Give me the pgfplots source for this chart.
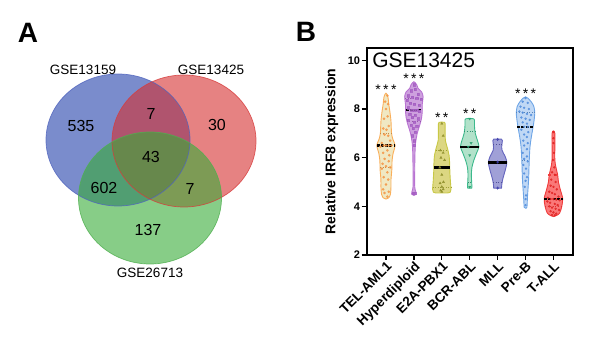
\documentclass[border=0pt]{standalone}
\usepackage{pgfplots}
\pgfplotsset{compat=1.18}
\usepackage{fontspec}
\setmainfont{Liberation Sans}

\definecolor{vblue}{RGB}{33,63,170}
\definecolor{vred}{RGB}{213,47,47}
\definecolor{vgreen}{RGB}{55,172,55}
\definecolor{bblue}{RGB}{80,100,190}
\definecolor{bred}{RGB}{215,60,60}
\definecolor{bgreen}{RGB}{80,175,80}

\definecolor{d1}{RGB}{250,175,90}\definecolor{f1}{RGB}{240,232,195}\definecolor{p1}{RGB}{245,150,70}
\definecolor{d2}{RGB}{185,115,210}\definecolor{f2}{RGB}{205,160,222}\definecolor{p2}{RGB}{165,95,195}
\definecolor{d3}{RGB}{200,200,70}\definecolor{f3}{RGB}{220,215,130}\definecolor{p3}{RGB}{140,140,40}
\definecolor{d4}{RGB}{60,185,140}\definecolor{f4}{RGB}{178,226,202}\definecolor{p4}{RGB}{40,160,110}
\definecolor{d5}{RGB}{100,100,190}\definecolor{f5}{RGB}{160,160,215}\definecolor{p5}{RGB}{60,60,170}
\definecolor{d6}{RGB}{110,165,230}\definecolor{f6}{RGB}{192,216,245}\definecolor{p6}{RGB}{80,140,220}
\definecolor{d7}{RGB}{240,60,60}\definecolor{f7}{RGB}{250,120,120}\definecolor{p7}{RGB}{225,35,35}

\begin{document}
\begin{tikzpicture}
\useasboundingbox (0bp,0bp) rectangle (598bp,355bp);

% ---------------- Panel A: Venn diagram ----------------
\begin{axis}[at={(0bp,0bp)}, anchor=south west, scale only axis,
  width=300bp, height=355bp, xmin=0, xmax=300, ymin=0, ymax=355,
  hide axis, clip=false]
  \fill[vblue, opacity=0.6] (axis cs:118,215) ellipse [x radius=72, y radius=66];
  \fill[vred, opacity=0.6] (axis cs:184,214) ellipse [x radius=72, y radius=66];
  \fill[vgreen, opacity=0.6] (axis cs:150,157) ellipse [x radius=71.5, y radius=66];
  \draw[bblue, line width=0.7bp, opacity=0.8] (axis cs:118,215) ellipse [x radius=72, y radius=66];
  \draw[bred, line width=0.7bp, opacity=0.8] (axis cs:184,214) ellipse [x radius=72, y radius=66];
  \draw[bgreen, line width=0.7bp, opacity=0.8] (axis cs:150,157) ellipse [x radius=71.5, y radius=66];
  \begin{scope}[every node/.style={font=\fontsize{16bp}{18bp}\selectfont, inner sep=0pt}]
    \node at (axis cs:81,229) {535};
    \node at (axis cs:151,241) {7};
    \node at (axis cs:217,230) {30};
    \node at (axis cs:151,198) {43};
    \node at (axis cs:104,167) {602};
    \node at (axis cs:190,166) {7};
    \node at (axis cs:148,125) {137};
  \end{scope}
  \begin{scope}[every node/.style={font=\fontsize{13.5bp}{15bp}\selectfont, inner sep=0pt}]
    \node at (axis cs:83,285) {GSE13159};
    \node at (axis cs:211,285) {GSE13425};
    \node at (axis cs:150,82) {GSE26713};
  \end{scope}
  \node[font=\bfseries\fontsize{28bp}{30bp}\selectfont, inner sep=0pt] at (axis cs:28,322) {A};
  \node[font=\bfseries\fontsize{28bp}{30bp}\selectfont, inner sep=0pt] at (axis cs:306,323) {B};
\end{axis}

% ---------------- Panel B: violin plot ----------------
\begin{axis}[at={(366.7bp,100bp)}, anchor=south west, scale only axis,
  width=206bp, height=207.3bp,
  xmin=0.31, xmax=7.69, ymin=2, ymax=10.52,
  axis line style={line width=1.6bp, black},
  xtick={1,2,3,4,5,6,7},
  xticklabels={TEL-AML1,Hyperdiploid,E2A-PBX1,BCR-ABL,MLL,Pre-B,T-ALL},
  ytick={2,4,6,8,10},
  xtick pos=left, ytick pos=left,
  tick align=outside, major tick length=5bp,
  tick style={line width=1.4bp, black},
  /pgf/number format/assume math mode=true,
  x tick label style={font=\bfseries\fontsize{13.5bp}{15bp}\selectfont, rotate=45, anchor=north east, inner sep=0.5bp},
  y tick label style={font=\bfseries\fontsize{11bp}{12bp}\selectfont, inner sep=1.5bp},
  clip=false]

  % violins (outline: right side upward, left side downward)
  \addplot[fill=f1, draw=d1, line width=0.9bp, smooth, tension=0.5] coordinates {
    (1.00,4.30)(1.10,4.35)(1.16,4.50)(1.18,4.80)(1.18,5.10)(1.21,5.50)(1.22,5.90)(1.26,6.20)(1.33,6.50)
    (1.25,6.75)(1.20,7.00)(1.18,7.50)(1.14,7.90)(1.10,8.20)(1.07,8.50)(1.00,8.65)
    (0.93,8.50)(0.90,8.20)(0.86,7.90)(0.82,7.50)(0.80,7.00)(0.75,6.75)(0.67,6.50)(0.74,6.20)(0.78,5.90)
    (0.79,5.50)(0.82,5.10)(0.82,4.80)(0.84,4.50)(0.90,4.35)} -- cycle;
  \addplot[fill=f2, draw=d2, line width=0.9bp, smooth, tension=0.5] coordinates {
    (2.00,4.45)(2.08,4.50)(2.07,4.60)(2.03,4.80)(2.03,5.50)(2.04,6.20)(2.06,6.60)(2.12,7.00)(2.20,7.30)
    (2.27,7.60)(2.30,7.90)(2.30,8.20)(2.33,8.50)(2.28,8.70)(2.15,8.85)(2.10,9.00)(2.00,9.12)
    (1.90,9.00)(1.85,8.85)(1.72,8.70)(1.67,8.50)(1.70,8.20)(1.70,7.90)(1.73,7.60)(1.80,7.30)(1.88,7.00)
    (1.94,6.60)(1.96,6.20)(1.97,5.50)(1.97,4.80)(1.93,4.60)(1.92,4.50)} -- cycle;
  \addplot[fill=f3, draw=d3, line width=0.9bp, smooth, tension=0.5] coordinates {
    (3.20,4.55)(3.30,4.58)(3.33,4.70)(3.31,5.00)(3.29,5.40)(3.28,5.80)(3.26,6.10)(3.20,6.40)(3.13,6.70)
    (3.12,7.00)(3.12,7.30)(3.10,7.45)
    (2.90,7.45)(2.88,7.30)(2.88,7.00)(2.87,6.70)(2.80,6.40)(2.74,6.10)(2.72,5.80)(2.71,5.40)(2.69,5.00)
    (2.67,4.70)(2.70,4.58)(2.80,4.55)} -- cycle;
  \addplot[fill=f4, draw=d4, line width=0.9bp, smooth, tension=0.5] coordinates {
    (4.07,4.75)(4.08,4.80)(4.07,5.00)(4.06,5.30)(4.08,5.60)(4.15,5.90)(4.25,6.20)(4.33,6.45)(4.28,6.70)
    (4.20,7.00)(4.17,7.30)(4.17,7.55)(4.14,7.60)
    (3.86,7.60)(3.83,7.55)(3.83,7.30)(3.80,7.00)(3.72,6.70)(3.67,6.45)(3.75,6.20)(3.85,5.90)(3.92,5.60)
    (3.94,5.30)(3.93,5.00)(3.92,4.80)(3.93,4.75)} -- cycle;
  \addplot[fill=f5, draw=d5, line width=0.9bp, smooth, tension=0.5] coordinates {
    (5.14,4.75)(5.15,4.90)(5.18,5.10)(5.24,5.35)(5.30,5.60)(5.33,5.82)(5.27,6.05)(5.16,6.30)(5.15,6.50)
    (5.17,6.70)(5.14,6.76)
    (4.86,6.76)(4.83,6.70)(4.85,6.50)(4.84,6.30)(4.73,6.05)(4.67,5.82)(4.70,5.60)(4.76,5.35)(4.82,5.10)
    (4.85,4.90)(4.86,4.75)} -- cycle;
  \addplot[fill=f6, draw=d6, line width=0.9bp, smooth, tension=0.5] coordinates {
    (6.00,3.92)(6.05,3.97)(6.07,4.40)(6.11,5.10)(6.13,5.80)(6.16,6.45)(6.21,6.86)(6.29,7.40)(6.33,7.82)
    (6.30,8.10)(6.20,8.30)(6.08,8.45)(6.00,8.50)
    (5.92,8.45)(5.80,8.30)(5.70,8.10)(5.67,7.82)(5.71,7.40)(5.79,6.86)(5.84,6.45)(5.87,5.80)(5.89,5.10)
    (5.93,4.40)(5.95,3.97)} -- cycle;
  \addplot[fill=f7, draw=d7, line width=0.9bp, smooth, tension=0.5] coordinates {
    (7.00,3.58)(7.10,3.62)(7.22,3.72)(7.30,4.00)(7.33,4.33)(7.25,4.67)(7.18,5.00)(7.15,5.30)(7.09,5.60)
    (7.05,5.90)(7.05,6.50)(7.05,7.00)(7.00,7.10)
    (6.95,7.00)(6.95,6.50)(6.95,5.90)(6.91,5.60)(6.85,5.30)(6.82,5.00)(6.75,4.67)(6.67,4.33)(6.70,4.00)
    (6.78,3.72)(6.90,3.62)} -- cycle;

  % quartile lines
  \addplot[d1!80!black, dotted, line width=0.6bp] coordinates {(0.79,5.6) (1.21,5.6)};
  \addplot[d1!80!black, dotted, line width=0.6bp] coordinates {(0.80,7.0) (1.20,7.0)};
  \addplot[d2!80!black, dotted, line width=0.6bp] coordinates {(1.75,7.5) (2.25,7.5)};
  \addplot[d2!80!black, dotted, line width=0.6bp] coordinates {(1.68,8.45) (2.32,8.45)};
  \addplot[d3!80!black, dotted, line width=0.6bp] coordinates {(2.67,4.8) (3.33,4.8)};
  \addplot[d3!80!black, dotted, line width=0.6bp] coordinates {(2.78,6.3) (3.22,6.3)};
  \addplot[d4!80!black, dotted, line width=0.6bp] coordinates {(3.93,5.0) (4.07,5.0)};
  \addplot[d4!80!black, dotted, line width=0.6bp] coordinates {(3.81,7.1) (4.19,7.1)};
  \addplot[d5!80!black, dotted, line width=0.6bp] coordinates {(4.84,4.98) (5.16,4.98)};
  \addplot[d5!80!black, dotted, line width=0.6bp] coordinates {(4.85,6.55) (5.15,6.55)};
  \addplot[d6!80!black, dotted, line width=0.6bp] coordinates {(5.87,5.9) (6.13,5.9)};
  \addplot[d6!80!black, dotted, line width=0.6bp] coordinates {(5.67,7.85) (6.33,7.85)};
  \addplot[d7!90!black, dotted, line width=0.6bp] coordinates {(6.70,4.0) (7.30,4.0)};
  \addplot[d7, dashed, line width=1.6bp] coordinates {(6.80,5.3) (7.20,5.3)};

  % data points
  \addplot[only marks, mark=*, mark size=1.1bp, color=p1, opacity=0.8] coordinates {
    (1.05,8.55)(0.97,8.3)(1.08,8.2)(1.0,8.0)(0.93,7.6)(1.06,7.7)(1.1,7.3)(0.9,7.2)(1.02,7.15)
    (0.95,6.95)(1.08,6.9)(1.15,6.7)(0.85,6.6)(0.92,6.5)(1.0,6.5)(1.1,6.5)(1.2,6.5)(0.8,6.45)
    (1.05,6.3)(0.9,6.2)(1.12,6.1)(0.95,5.95)(1.1,5.85)(0.88,5.75)(1.0,5.65)(1.15,5.6)(0.85,5.55)
    (1.05,5.4)(0.92,5.2)(1.08,5.1)(1.0,4.9)(0.9,4.7)(1.1,4.6)(0.95,4.55)(1.05,4.4)};
  \addplot[only marks, mark=square*, mark size=1.1bp, color=p2, opacity=0.8] coordinates {
    (2.0,9.0)(1.9,8.75)(2.05,8.8)(2.15,8.6)(1.8,8.55)(1.95,8.5)(2.1,8.45)(2.25,8.4)(1.75,8.35)
    (1.88,8.25)(2.02,8.2)(2.18,8.15)(1.8,8.05)(1.92,7.95)(2.0,7.95)(2.1,7.95)(2.2,7.9)(1.85,7.8)
    (2.05,7.75)(1.95,7.65)(2.15,7.6)(1.8,7.55)(2.02,7.45)(1.9,7.35)(2.1,7.3)(1.98,7.2)(2.05,7.05)
    (1.95,6.9)(2.02,6.7)(2.0,6.5)(1.97,4.55)(2.03,4.55)};
  \addplot[only marks, mark=triangle*, mark size=1.3bp, color=p3, opacity=0.8] coordinates {
    (3.0,7.4)(3.05,6.9)(2.95,6.3)(3.05,6.2)(2.97,6.0)(3.1,5.9)(2.93,5.6)(3.0,5.3)(3.06,5.0)
    (2.94,4.95)(3.0,4.8)(3.05,4.7)(2.96,4.65)(3.0,4.6)};
  \addplot[only marks, mark=triangle*, mark options={rotate=180}, mark size=1.3bp, color=p4, opacity=0.8] coordinates {
    (4.0,7.6)(4.05,6.6)(3.95,6.45)(4.0,6.1)(4.0,4.8)};
  \addplot[only marks, mark=diamond*, mark size=1.3bp, color=p5, opacity=0.8] coordinates {
    (5.0,6.75)(5.0,5.82)(5.0,4.75)};
  \addplot[only marks, mark=*, mark size=1.0bp, color=p6, opacity=0.8] coordinates {
    (6.0,8.45)(5.9,8.3)(6.08,8.25)(5.82,8.1)(5.95,8.05)(6.12,8.0)(5.78,7.9)(5.9,7.85)(6.05,7.8)
    (6.2,7.75)(5.85,7.65)(6.0,7.6)(6.15,7.55)(5.9,7.45)(6.05,7.4)(5.95,7.27)(6.08,7.27)(5.85,7.15)
    (6.1,7.05)(5.95,6.95)(6.05,6.85)(5.92,6.7)(6.08,6.6)(5.95,6.5)(6.05,6.35)(5.9,6.2)(6.05,6.05)
    (5.95,5.95)(6.08,5.85)(5.92,5.7)(6.02,5.55)(5.95,5.35)(6.05,5.2)(6.0,5.05)(5.97,4.8)(6.02,4.45)
    (6.0,4.3)(6.0,4.05)};
  \addplot[only marks, mark=*, mark size=1.0bp, color=p7, opacity=0.8] coordinates {
    (7.0,7.05)(7.0,6.8)(7.0,6.6)(7.02,6.2)(6.98,5.9)(7.03,5.6)(6.95,5.4)(7.05,5.3)(6.92,5.1)
    (7.08,5.0)(6.9,4.85)(7.0,4.8)(7.12,4.7)(6.85,4.6)(6.95,4.55)(7.05,4.5)(7.18,4.4)(6.8,4.35)
    (6.9,4.3)(7.0,4.3)(7.1,4.28)(7.22,4.25)(6.78,4.2)(6.88,4.15)(7.05,4.1)(7.15,4.05)(6.85,4.0)
    (6.95,3.95)(7.08,3.9)(7.2,3.85)(6.9,3.8)(7.0,3.75)(7.1,3.7)(6.95,3.65)(7.05,3.63)};

  % medians
  \addplot[black, line width=2.2bp, dash pattern=on 3bp off 1.2bp] coordinates {(0.67,6.5) (1.33,6.5)};
  \addplot[black, line width=2.2bp, dash pattern=on 3bp off 1.2bp] coordinates {(1.70,7.95) (2.30,7.95)};
  \addplot[black, line width=2.2bp] coordinates {(2.72,5.6) (3.28,5.6)};
  \addplot[black, line width=2.2bp] coordinates {(3.67,6.45) (4.33,6.45)};
  \addplot[black, line width=2.2bp] coordinates {(4.67,5.8) (5.33,5.8)};
  \addplot[black, line width=2.2bp, dash pattern=on 3bp off 1.2bp] coordinates {(5.70,7.27) (6.30,7.27)};
  \addplot[black, line width=2.2bp, dash pattern=on 3bp off 1.2bp] coordinates {(6.67,4.3) (7.33,4.3)};

  % significance stars
  \begin{scope}[every node/.style={font=\fontsize{14bp}{15bp}\selectfont, inner sep=0pt, anchor=base}]
    \node at (axis cs:1,8.58) {*\,*\,*};
    \node at (axis cs:2,9.04) {*\,*\,*};
    \node at (axis cs:3,7.45) {*\,*};
    \node at (axis cs:4,7.61) {*\,*};
    \node at (axis cs:6,8.42) {*\,*\,*};
  \end{scope}

  \node[anchor=west, inner sep=0pt, font=\fontsize{21bp}{24bp}\selectfont] at (rel axis cs:0.026,0.94) {GSE13425};
  \node[rotate=90, inner sep=0pt, font=\bfseries\fontsize{14bp}{16bp}\selectfont] at (rel axis cs:-0.17,0.5) {Relative IRF8 expression};
\end{axis}
\end{tikzpicture}
\end{document}
